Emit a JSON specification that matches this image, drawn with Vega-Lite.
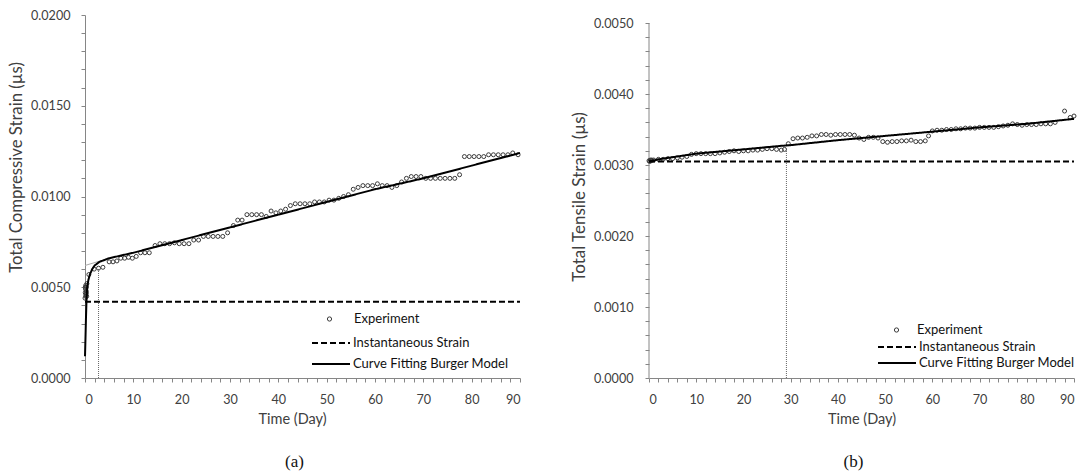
{
  "$schema": "https://vega.github.io/schema/vega-lite/v6.json",
  "padding": {"left": 8, "top": 9, "right": 5, "bottom": 0},
  "spacing": 46,
  "config": {
    "font": "Lato",
    "view": {"stroke": null},
    "axis": {
      "grid": false,
      "domainColor": "#868686",
      "tickColor": "#868686",
      "tickSize": 4,
      "labelColor": "#404040",
      "labelFont": "Lato",
      "labelFontSize": 12.6,
      "labelOverlap": false,
      "titleFont": "Lato",
      "titleFontSize": 14.5,
      "titleFontWeight": "normal",
      "titleColor": "#404040"
    },
    "legend": {"labelFont": "Lato", "labelFontSize": 13, "labelColor": "#111", "labelLimit": 300, "padding": 0, "symbolOffset": 0, "title": null},
    "title": {"font": "Liberation Serif", "fontSize": 17, "fontWeight": "normal", "color": "#111"}
  },
  "datasets": {
    "a": [
      {"series": "Experiment", "day": 0.0, "strain": 0.0044},
      {"series": "Experiment", "day": 0.05, "strain": 0.0047},
      {"series": "Experiment", "day": 0.1, "strain": 0.0049},
      {"series": "Experiment", "day": 0.15, "strain": 0.0051},
      {"series": "Experiment", "day": 0.2, "strain": 0.0046},
      {"series": "Experiment", "day": 0.25, "strain": 0.0048},
      {"series": "Experiment", "day": 0.3, "strain": 0.005},
      {"series": "Experiment", "day": 0.35, "strain": 0.0045},
      {"series": "Experiment", "day": 0.4, "strain": 0.0052},
      {"series": "Experiment", "day": 0.05, "strain": 0.005},
      {"series": "Experiment", "day": 0.15, "strain": 0.0045},
      {"series": "Experiment", "day": 0.3, "strain": 0.0047},
      {"series": "Experiment", "day": 0.8, "strain": 0.0057},
      {"series": "Experiment", "day": 1.9, "strain": 0.006},
      {"series": "Experiment", "day": 2.8, "strain": 0.00605},
      {"series": "Experiment", "day": 3.7, "strain": 0.0061},
      {"series": "Experiment", "day": 5.0, "strain": 0.0064},
      {"series": "Experiment", "day": 5.8, "strain": 0.0064},
      {"series": "Experiment", "day": 6.6, "strain": 0.00645},
      {"series": "Experiment", "day": 7.4, "strain": 0.0066},
      {"series": "Experiment", "day": 8.2, "strain": 0.0066},
      {"series": "Experiment", "day": 9.0, "strain": 0.00665},
      {"series": "Experiment", "day": 9.8, "strain": 0.0066},
      {"series": "Experiment", "day": 10.6, "strain": 0.0067},
      {"series": "Experiment", "day": 11.5, "strain": 0.0069},
      {"series": "Experiment", "day": 12.4, "strain": 0.0069},
      {"series": "Experiment", "day": 13.3, "strain": 0.0069},
      {"series": "Experiment", "day": 14.5, "strain": 0.0073},
      {"series": "Experiment", "day": 15.5, "strain": 0.0074},
      {"series": "Experiment", "day": 16.5, "strain": 0.0074},
      {"series": "Experiment", "day": 17.5, "strain": 0.0074},
      {"series": "Experiment", "day": 18.5, "strain": 0.00745},
      {"series": "Experiment", "day": 19.5, "strain": 0.0074},
      {"series": "Experiment", "day": 20.5, "strain": 0.0074},
      {"series": "Experiment", "day": 21.5, "strain": 0.0074},
      {"series": "Experiment", "day": 22.5, "strain": 0.0076},
      {"series": "Experiment", "day": 23.5, "strain": 0.0076},
      {"series": "Experiment", "day": 24.5, "strain": 0.0078},
      {"series": "Experiment", "day": 25.5, "strain": 0.0078},
      {"series": "Experiment", "day": 26.5, "strain": 0.0078},
      {"series": "Experiment", "day": 27.5, "strain": 0.0078},
      {"series": "Experiment", "day": 28.5, "strain": 0.0078},
      {"series": "Experiment", "day": 29.5, "strain": 0.008},
      {"series": "Experiment", "day": 30.7, "strain": 0.0084},
      {"series": "Experiment", "day": 31.6, "strain": 0.0087},
      {"series": "Experiment", "day": 32.5, "strain": 0.0087},
      {"series": "Experiment", "day": 33.5, "strain": 0.009},
      {"series": "Experiment", "day": 34.5, "strain": 0.009},
      {"series": "Experiment", "day": 35.5, "strain": 0.009},
      {"series": "Experiment", "day": 36.5, "strain": 0.009},
      {"series": "Experiment", "day": 37.5, "strain": 0.0089},
      {"series": "Experiment", "day": 38.5, "strain": 0.0092},
      {"series": "Experiment", "day": 39.5, "strain": 0.0091},
      {"series": "Experiment", "day": 40.5, "strain": 0.0092},
      {"series": "Experiment", "day": 41.5, "strain": 0.0093},
      {"series": "Experiment", "day": 42.5, "strain": 0.0095},
      {"series": "Experiment", "day": 43.5, "strain": 0.0096},
      {"series": "Experiment", "day": 44.5, "strain": 0.0096},
      {"series": "Experiment", "day": 45.5, "strain": 0.0096},
      {"series": "Experiment", "day": 46.5, "strain": 0.0096},
      {"series": "Experiment", "day": 47.5, "strain": 0.0097},
      {"series": "Experiment", "day": 48.5, "strain": 0.0097},
      {"series": "Experiment", "day": 49.5, "strain": 0.0097},
      {"series": "Experiment", "day": 50.5, "strain": 0.0098},
      {"series": "Experiment", "day": 51.5, "strain": 0.0098},
      {"series": "Experiment", "day": 52.5, "strain": 0.0099},
      {"series": "Experiment", "day": 53.5, "strain": 0.01},
      {"series": "Experiment", "day": 54.5, "strain": 0.0101},
      {"series": "Experiment", "day": 55.5, "strain": 0.0104},
      {"series": "Experiment", "day": 56.5, "strain": 0.0105},
      {"series": "Experiment", "day": 57.5, "strain": 0.0106},
      {"series": "Experiment", "day": 58.5, "strain": 0.0106},
      {"series": "Experiment", "day": 59.5, "strain": 0.0106},
      {"series": "Experiment", "day": 60.5, "strain": 0.0107},
      {"series": "Experiment", "day": 61.5, "strain": 0.0106},
      {"series": "Experiment", "day": 62.5, "strain": 0.0106},
      {"series": "Experiment", "day": 63.5, "strain": 0.0105},
      {"series": "Experiment", "day": 64.5, "strain": 0.0106},
      {"series": "Experiment", "day": 65.5, "strain": 0.0108},
      {"series": "Experiment", "day": 66.5, "strain": 0.011},
      {"series": "Experiment", "day": 67.5, "strain": 0.0111},
      {"series": "Experiment", "day": 68.5, "strain": 0.0111},
      {"series": "Experiment", "day": 69.5, "strain": 0.0111},
      {"series": "Experiment", "day": 70.5, "strain": 0.011},
      {"series": "Experiment", "day": 71.5, "strain": 0.011},
      {"series": "Experiment", "day": 72.5, "strain": 0.011},
      {"series": "Experiment", "day": 73.5, "strain": 0.011},
      {"series": "Experiment", "day": 74.5, "strain": 0.011},
      {"series": "Experiment", "day": 75.5, "strain": 0.011},
      {"series": "Experiment", "day": 76.5, "strain": 0.011},
      {"series": "Experiment", "day": 77.5, "strain": 0.0112},
      {"series": "Experiment", "day": 78.5, "strain": 0.0122},
      {"series": "Experiment", "day": 79.5, "strain": 0.0122},
      {"series": "Experiment", "day": 80.5, "strain": 0.0122},
      {"series": "Experiment", "day": 81.5, "strain": 0.0122},
      {"series": "Experiment", "day": 82.5, "strain": 0.0122},
      {"series": "Experiment", "day": 83.5, "strain": 0.0123},
      {"series": "Experiment", "day": 84.5, "strain": 0.0123},
      {"series": "Experiment", "day": 85.5, "strain": 0.0123},
      {"series": "Experiment", "day": 86.5, "strain": 0.0123},
      {"series": "Experiment", "day": 87.5, "strain": 0.0123},
      {"series": "Experiment", "day": 88.5, "strain": 0.0124},
      {"series": "Experiment", "day": 89.6, "strain": 0.0123},
      {"series": "Instantaneous Strain", "day": 0, "strain": 0.0042},
      {"series": "Instantaneous Strain", "day": 90, "strain": 0.0042},
      {"series": "Curve Fitting Burger Model", "day": 0, "strain": 0.0012},
      {"series": "Curve Fitting Burger Model", "day": 0.1, "strain": 0.0022},
      {"series": "Curve Fitting Burger Model", "day": 0.2, "strain": 0.0033},
      {"series": "Curve Fitting Burger Model", "day": 0.3, "strain": 0.0042},
      {"series": "Curve Fitting Burger Model", "day": 0.45, "strain": 0.005},
      {"series": "Curve Fitting Burger Model", "day": 0.7, "strain": 0.0054},
      {"series": "Curve Fitting Burger Model", "day": 1.0, "strain": 0.0057},
      {"series": "Curve Fitting Burger Model", "day": 1.5, "strain": 0.006},
      {"series": "Curve Fitting Burger Model", "day": 2.0, "strain": 0.0062},
      {"series": "Curve Fitting Burger Model", "day": 3.0, "strain": 0.0064},
      {"series": "Curve Fitting Burger Model", "day": 4.0, "strain": 0.0065},
      {"series": "Curve Fitting Burger Model", "day": 5.0, "strain": 0.0066},
      {"series": "Curve Fitting Burger Model", "day": 10, "strain": 0.0069},
      {"series": "Curve Fitting Burger Model", "day": 20, "strain": 0.0076},
      {"series": "Curve Fitting Burger Model", "day": 30, "strain": 0.0083},
      {"series": "Curve Fitting Burger Model", "day": 40, "strain": 0.009},
      {"series": "Curve Fitting Burger Model", "day": 50, "strain": 0.0097},
      {"series": "Curve Fitting Burger Model", "day": 60, "strain": 0.0104},
      {"series": "Curve Fitting Burger Model", "day": 70, "strain": 0.011},
      {"series": "Curve Fitting Burger Model", "day": 80, "strain": 0.0117},
      {"series": "Curve Fitting Burger Model", "day": 90, "strain": 0.0124},
      {"series": "Tangent", "day": 0, "strain": 0.0062},
      {"series": "Tangent", "day": 3.8, "strain": 0.0065}
    ],
    "aMarker": [{"day": 2.8, "low": 0, "high": 0.006}],
    "b": [
      {"series": "Experiment", "day": 0.0, "strain": 0.00306},
      {"series": "Experiment", "day": 0.15, "strain": 0.00305},
      {"series": "Experiment", "day": 0.3, "strain": 0.00307},
      {"series": "Experiment", "day": 0.45, "strain": 0.00306},
      {"series": "Experiment", "day": 0.6, "strain": 0.00307},
      {"series": "Experiment", "day": 1, "strain": 0.00307},
      {"series": "Experiment", "day": 2, "strain": 0.00308},
      {"series": "Experiment", "day": 3, "strain": 0.00308},
      {"series": "Experiment", "day": 4, "strain": 0.00309},
      {"series": "Experiment", "day": 5, "strain": 0.00309},
      {"series": "Experiment", "day": 6, "strain": 0.0031},
      {"series": "Experiment", "day": 7, "strain": 0.00311},
      {"series": "Experiment", "day": 8, "strain": 0.00312},
      {"series": "Experiment", "day": 9, "strain": 0.00315},
      {"series": "Experiment", "day": 10, "strain": 0.00316},
      {"series": "Experiment", "day": 11, "strain": 0.00316},
      {"series": "Experiment", "day": 12, "strain": 0.00316},
      {"series": "Experiment", "day": 13, "strain": 0.00316},
      {"series": "Experiment", "day": 14, "strain": 0.00316},
      {"series": "Experiment", "day": 15, "strain": 0.00317},
      {"series": "Experiment", "day": 16, "strain": 0.00318},
      {"series": "Experiment", "day": 17, "strain": 0.00319},
      {"series": "Experiment", "day": 18, "strain": 0.0032},
      {"series": "Experiment", "day": 19, "strain": 0.00319},
      {"series": "Experiment", "day": 20, "strain": 0.0032},
      {"series": "Experiment", "day": 21, "strain": 0.0032},
      {"series": "Experiment", "day": 22, "strain": 0.00321},
      {"series": "Experiment", "day": 23, "strain": 0.00321},
      {"series": "Experiment", "day": 24, "strain": 0.00322},
      {"series": "Experiment", "day": 25, "strain": 0.00323},
      {"series": "Experiment", "day": 26, "strain": 0.00323},
      {"series": "Experiment", "day": 27, "strain": 0.00322},
      {"series": "Experiment", "day": 28, "strain": 0.00321},
      {"series": "Experiment", "day": 28.7, "strain": 0.00322},
      {"series": "Experiment", "day": 29.5, "strain": 0.0033},
      {"series": "Experiment", "day": 30.5, "strain": 0.00337},
      {"series": "Experiment", "day": 31.5, "strain": 0.00338},
      {"series": "Experiment", "day": 32.5, "strain": 0.00338},
      {"series": "Experiment", "day": 33.5, "strain": 0.00339},
      {"series": "Experiment", "day": 34.5, "strain": 0.00341},
      {"series": "Experiment", "day": 35.5, "strain": 0.00341},
      {"series": "Experiment", "day": 36.5, "strain": 0.00343},
      {"series": "Experiment", "day": 37.5, "strain": 0.00343},
      {"series": "Experiment", "day": 38.5, "strain": 0.00342},
      {"series": "Experiment", "day": 39.5, "strain": 0.00343},
      {"series": "Experiment", "day": 40.5, "strain": 0.00343},
      {"series": "Experiment", "day": 41.5, "strain": 0.00343},
      {"series": "Experiment", "day": 42.5, "strain": 0.00343},
      {"series": "Experiment", "day": 43.5, "strain": 0.00342},
      {"series": "Experiment", "day": 44.5, "strain": 0.00338},
      {"series": "Experiment", "day": 45.5, "strain": 0.00336},
      {"series": "Experiment", "day": 46.5, "strain": 0.00339},
      {"series": "Experiment", "day": 47.5, "strain": 0.00339},
      {"series": "Experiment", "day": 48.5, "strain": 0.00338},
      {"series": "Experiment", "day": 49.5, "strain": 0.00333},
      {"series": "Experiment", "day": 50.5, "strain": 0.00332},
      {"series": "Experiment", "day": 51.5, "strain": 0.00333},
      {"series": "Experiment", "day": 52.5, "strain": 0.00333},
      {"series": "Experiment", "day": 53.5, "strain": 0.00334},
      {"series": "Experiment", "day": 54.5, "strain": 0.00334},
      {"series": "Experiment", "day": 55.5, "strain": 0.00335},
      {"series": "Experiment", "day": 56.5, "strain": 0.00333},
      {"series": "Experiment", "day": 57.5, "strain": 0.00333},
      {"series": "Experiment", "day": 58.5, "strain": 0.00334},
      {"series": "Experiment", "day": 59.2, "strain": 0.00341},
      {"series": "Experiment", "day": 60, "strain": 0.00348},
      {"series": "Experiment", "day": 61, "strain": 0.00349},
      {"series": "Experiment", "day": 62, "strain": 0.00349},
      {"series": "Experiment", "day": 63, "strain": 0.0035},
      {"series": "Experiment", "day": 64, "strain": 0.0035},
      {"series": "Experiment", "day": 65, "strain": 0.00351},
      {"series": "Experiment", "day": 66, "strain": 0.00351},
      {"series": "Experiment", "day": 67, "strain": 0.00352},
      {"series": "Experiment", "day": 68, "strain": 0.00352},
      {"series": "Experiment", "day": 69, "strain": 0.00352},
      {"series": "Experiment", "day": 70, "strain": 0.00353},
      {"series": "Experiment", "day": 71, "strain": 0.00353},
      {"series": "Experiment", "day": 72, "strain": 0.00353},
      {"series": "Experiment", "day": 73, "strain": 0.00353},
      {"series": "Experiment", "day": 74, "strain": 0.00354},
      {"series": "Experiment", "day": 75, "strain": 0.00355},
      {"series": "Experiment", "day": 76, "strain": 0.00356},
      {"series": "Experiment", "day": 77, "strain": 0.00358},
      {"series": "Experiment", "day": 78, "strain": 0.00357},
      {"series": "Experiment", "day": 79, "strain": 0.00356},
      {"series": "Experiment", "day": 80, "strain": 0.00357},
      {"series": "Experiment", "day": 81, "strain": 0.00357},
      {"series": "Experiment", "day": 82, "strain": 0.00357},
      {"series": "Experiment", "day": 83, "strain": 0.00358},
      {"series": "Experiment", "day": 84, "strain": 0.00358},
      {"series": "Experiment", "day": 85, "strain": 0.00358},
      {"series": "Experiment", "day": 86, "strain": 0.0036},
      {"series": "Experiment", "day": 88, "strain": 0.00376},
      {"series": "Experiment", "day": 89.2, "strain": 0.00367},
      {"series": "Experiment", "day": 90, "strain": 0.00369},
      {"series": "Instantaneous Strain", "day": 0, "strain": 0.00305},
      {"series": "Instantaneous Strain", "day": 90, "strain": 0.00305},
      {"series": "Curve Fitting Burger Model", "day": 0, "strain": 0.00305},
      {"series": "Curve Fitting Burger Model", "day": 2, "strain": 0.00308},
      {"series": "Curve Fitting Burger Model", "day": 5, "strain": 0.00311},
      {"series": "Curve Fitting Burger Model", "day": 10, "strain": 0.00316},
      {"series": "Curve Fitting Burger Model", "day": 15, "strain": 0.00319},
      {"series": "Curve Fitting Burger Model", "day": 20, "strain": 0.00322},
      {"series": "Curve Fitting Burger Model", "day": 28, "strain": 0.00327},
      {"series": "Curve Fitting Burger Model", "day": 30, "strain": 0.00328},
      {"series": "Curve Fitting Burger Model", "day": 40, "strain": 0.00335},
      {"series": "Curve Fitting Burger Model", "day": 50, "strain": 0.00341},
      {"series": "Curve Fitting Burger Model", "day": 60, "strain": 0.00347},
      {"series": "Curve Fitting Burger Model", "day": 70, "strain": 0.00353},
      {"series": "Curve Fitting Burger Model", "day": 80, "strain": 0.00358},
      {"series": "Curve Fitting Burger Model", "day": 90, "strain": 0.00365}
    ],
    "bMarker": [{"day": 29.1, "low": 0, "high": 0.00322}],
    "bAxis": [{"day": 0, "low": 0, "high": 0.005}]
  },
  "hconcat": [
    {
      "width": 435,
      "height": 363,
      "title": {"text": "(a)", "orient": "bottom", "frame": "group", "offset": 28, "dx": -8},
      "layer": [
        {
          "data": {"name": "aMarker"},
          "mark": {"type": "rule", "color": "#666", "strokeWidth": 1, "strokeDash": [1, 1]},
          "encoding": {
            "x": {"field": "day", "type": "quantitative"},
            "y": {"field": "low", "type": "quantitative"},
            "y2": {"field": "high"}
          }
        },
        {
          "data": {"name": "a"},
          "transform": [{"filter": "datum.series === 'Tangent'"}],
          "mark": {"type": "line", "color": "#aaa", "strokeWidth": 1},
          "encoding": {
            "x": {"field": "day", "type": "quantitative"},
            "y": {"field": "strain", "type": "quantitative"}
          }
        },
        {
          "data": {"name": "a"},
          "transform": [{"filter": "datum.series === 'Experiment'"}],
          "mark": {"type": "point", "filled": false, "size": 16, "strokeWidth": 1, "opacity": 1, "color": "#3a3a3a"},
          "encoding": {
            "x": {"field": "day", "type": "quantitative"},
            "y": {"field": "strain", "type": "quantitative"},
            "shape": {
              "field": "series", "type": "nominal",
              "scale": {"domain": ["Experiment"], "range": ["circle"]},
              "legend": {"orient": "none", "legendX": 238, "legendY": 297, "symbolSize": 18, "symbolStrokeWidth": 1, "symbolStrokeColor": "#3a3a3a", "symbolFillColor": "transparent", "labelOffset": 18, "clipHeight": 14}
            }
          }
        },
        {
          "data": {"name": "a"},
          "transform": [{"filter": "datum.series === 'Instantaneous Strain' || datum.series === 'Curve Fitting Burger Model'"}],
          "mark": {"type": "line", "strokeWidth": 2, "color": "#000"},
          "encoding": {
            "x": {
              "field": "day", "type": "quantitative",
              "scale": {"domain": [0, 90], "nice": false},
              "axis": {
                "title": "Time (Day)",
                "values": [0,2,4,6,8,10,12,14,16,18,20,22,24,26,28,30,32,34,36,38,40,42,44,46,48,50,52,54,56,58,60,62,64,66,68,70,72,74,76,78,80,82,84,86,88,90],
                "tickCount": 1000,
                "labelExpr": "datum.value % 10 === 0 ? format(datum.value, 'd') : ''",
                "labelOverlap": false,
                "labelPadding": 11, "titlePadding": 7, "titleX": 207
              }
            },
            "y": {
              "field": "strain", "type": "quantitative",
              "scale": {"domain": [0, 0.02], "nice": false},
              "axis": {
                "title": "Total Compressive Strain (µs)",
                "titleFontSize": 16.7,
                "values": [0,0.001,0.002,0.003,0.004,0.005,0.006,0.007,0.008,0.009,0.01,0.011,0.012,0.013,0.014,0.015,0.016,0.017,0.018,0.019,0.02],
                "tickCount": 1000,
                "labelExpr": "abs(datum.value * 200 - round(datum.value * 200)) < 0.01 ? format(datum.value, '.4f') : ''",
                "labelOverlap": false,
                "labelPadding": 11, "titlePadding": 5, "titleY": 152
              }
            },
            "strokeDash": {
              "field": "series", "type": "nominal",
              "scale": {"domain": ["Instantaneous Strain", "Curve Fitting Burger Model"], "range": [[6, 3], [1, 0]]},
              "legend": {"orient": "none", "legendX": 226, "legendY": 321, "symbolType": "stroke", "symbolSize": 1444, "symbolStrokeWidth": 2, "symbolStrokeColor": "#000", "labelOffset": 2, "clipHeight": 14, "rowPadding": 7}
            }
          }
        }
      ]
    },
    {
      "width": 425,
      "height": 363,
      "title": {"text": "(b)", "orient": "bottom", "frame": "group", "offset": 28, "dx": -8},
      "layer": [
        {
          "data": {"name": "bAxis"},
          "mark": {"type": "rule", "color": "#868686", "strokeWidth": 1},
          "encoding": {
            "x": {"field": "day", "type": "quantitative"},
            "y": {"field": "low", "type": "quantitative"},
            "y2": {"field": "high"}
          }
        },
        {
          "data": {"name": "bMarker"},
          "mark": {"type": "rule", "color": "#666", "strokeWidth": 1, "strokeDash": [1, 1]},
          "encoding": {
            "x": {"field": "day", "type": "quantitative"},
            "y": {"field": "low", "type": "quantitative"},
            "y2": {"field": "high"}
          }
        },
        {
          "data": {"name": "b"},
          "transform": [{"filter": "datum.series === 'Experiment'"}],
          "mark": {"type": "point", "filled": false, "size": 16, "strokeWidth": 1, "opacity": 1, "color": "#3a3a3a"},
          "encoding": {
            "x": {"field": "day", "type": "quantitative"},
            "y": {"field": "strain", "type": "quantitative"},
            "shape": {
              "field": "series", "type": "nominal",
              "scale": {"domain": ["Experiment"], "range": ["circle"]},
              "legend": {"orient": "none", "legendX": 241, "legendY": 308, "symbolSize": 18, "symbolStrokeWidth": 1, "symbolStrokeColor": "#3a3a3a", "symbolFillColor": "transparent", "labelOffset": 14, "clipHeight": 14}
            }
          }
        },
        {
          "data": {"name": "b"},
          "transform": [{"filter": "datum.series === 'Instantaneous Strain' || datum.series === 'Curve Fitting Burger Model'"}],
          "mark": {"type": "line", "strokeWidth": 2, "color": "#000"},
          "encoding": {
            "x": {
              "field": "day", "type": "quantitative",
              "scale": {"domain": [0, 90], "nice": false},
              "axis": {
                "title": "Time (Day)",
                "values": [0,2,4,6,8,10,12,14,16,18,20,22,24,26,28,30,32,34,36,38,40,42,44,46,48,50,52,54,56,58,60,62,64,66,68,70,72,74,76,78,80,82,84,86,88,90],
                "tickCount": 1000,
                "labelExpr": "datum.value % 10 === 0 ? format(datum.value, 'd') : ''",
                "labelOverlap": false,
                "labelPadding": 11, "titlePadding": 7
              }
            },
            "y": {
              "field": "strain", "type": "quantitative",
              "scale": {"domain": [0, 0.005113], "nice": false},
              "axis": {
                "title": "Total Tensile Strain (µs)",
                "titleFontSize": 17,
                "domain": false,
                "values": [0,0.0002,0.0004,0.0006,0.0008,0.001,0.0012,0.0014,0.0016,0.0018,0.002,0.0022,0.0024,0.0026,0.0028,0.003,0.0032,0.0034,0.0036,0.0038,0.004,0.0042,0.0044,0.0046,0.0048,0.005],
                "tickCount": 1000,
                "labelExpr": "abs(datum.value * 1000 - round(datum.value * 1000)) < 0.01 ? format(datum.value, '.4f') : ''",
                "labelOverlap": false,
                "labelPadding": 12, "titlePadding": 5
              }
            },
            "strokeDash": {
              "field": "series", "type": "nominal",
              "scale": {"domain": ["Instantaneous Strain", "Curve Fitting Burger Model"], "range": [[6, 3], [1, 0]]},
              "legend": {"orient": "none", "legendX": 228, "legendY": 325, "symbolType": "stroke", "symbolSize": 1444, "symbolStrokeWidth": 2, "symbolStrokeColor": "#000", "labelOffset": 2, "clipHeight": 14, "rowPadding": 2}
            }
          }
        }
      ]
    }
  ],
  "resolve": {
    "scale": {"x": "independent", "y": "independent", "shape": "independent", "strokeDash": "independent"},
    "legend": {"shape": "independent", "strokeDash": "independent"}
  }
}
